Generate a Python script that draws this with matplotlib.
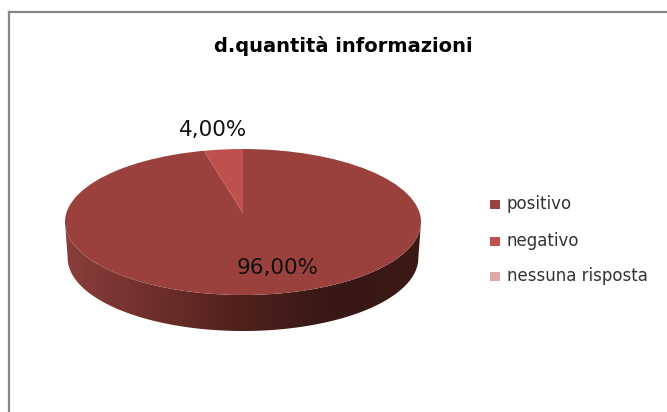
import numpy as np
import matplotlib
matplotlib.use('Agg')
import matplotlib.pyplot as plt
from matplotlib.colors import LinearSegmentedColormap
from matplotlib.lines import Line2D
from matplotlib.patches import Ellipse, Polygon, Rectangle

title = 'd.quantità informazioni'
labels = ['positivo', 'negativo', 'nessuna risposta']
values = [96, 4, 0]
pie_colours = ['#9a403d', '#c0504d', '#dfa8a6']
wall_colours = ['#8a3e3b', '#6e2f2b', '#4f201c', '#371814', '#3c1a16']

W, H = 667, 412
fig = plt.figure(figsize=(W / 100, H / 100), dpi=100)
fig.patch.set_facecolor('white')

# pie scale in pixels, axes holds the flattened pie
cx, cy, rx, ry = 243, 222, 178, 73
depth = 36 / ry
x0, x1 = -1.1, 1.1
y0, y1 = -1.7, 1.2
ax = fig.add_axes([(cx + x0 * rx) / W, 1 - (cy - y0 * ry) / H,
                   (x1 - x0) * rx / W, (y1 - y0) * ry / H])

patches, texts = plt.pie(values, colors=pie_colours, startangle=90, counterclock=False,
                         radius=1.2, center=(0, 0.12),
                         wedgeprops={'linewidth': 0})

# top face is an ellipse, slices get clipped to it
top = Ellipse((0, 0), 2, 2, fc='none', ec='none', transform=ax.transData)
ax.add_patch(top)
for p in patches:
    p.set_clip_on(True)
    p.set_clip_path(top)
    p.set_zorder(3)

# side wall with the dark gradient
t = np.linspace(np.pi, 2 * np.pi, 200)
wall_pts = np.vstack([np.column_stack([np.cos(t), np.sin(t)]),
                      np.column_stack([0.985 * np.cos(t[::-1]), np.sin(t[::-1]) - depth])])
wall = Polygon(wall_pts, closed=True, fc='none', ec='none', transform=ax.transData)
ax.add_patch(wall)
cmap = LinearSegmentedColormap.from_list('wall', wall_colours)
im = ax.imshow(np.linspace(0, 1, 256).reshape(1, -1), cmap=cmap, aspect='auto',
               extent=(-1, 1, -1 - depth, 0), zorder=2)
im.set_clip_path(wall)

ax.set_aspect('auto')
ax.set_xlim(x0, x1)
ax.set_ylim(y0, y1)
ax.axis('off')

# chart frame, only top and left show in the crop
frame = '#868686'
fig.add_artist(Line2D([8.5 / W, 8.5 / W], [0, 1 - 11.5 / H], color=frame, lw=1.6))
fig.add_artist(Line2D([8.5 / W, 1], [1 - 11.5 / H, 1 - 11.5 / H], color=frame, lw=1.6))

fig.text(343 / W, 1 - 46 / H, title, ha='center', va='center', fontsize=14,
         fontweight='bold', color='black')
fig.text(213 / W, 1 - 130 / H, '4,00%', ha='center', va='center', fontsize=15.5, color='#111111')
fig.text(278 / W, 1 - 268 / H, '96,00%', ha='center', va='center', fontsize=15.5, color='#111111')

# legend
legend_y = [204, 241, 276]
for lab, col, y in zip(labels, pie_colours, legend_y):
    fig.add_artist(Rectangle((490 / W, 1 - (y + 4.5) / H), 10 / W, 9 / H, fc=col, ec='none',
                             transform=fig.transFigure))
    fig.text(507 / W, 1 - y / H, lab, ha='left', va='center', fontsize=12, color='#333333')

fig.savefig('out.png', dpi=100)
